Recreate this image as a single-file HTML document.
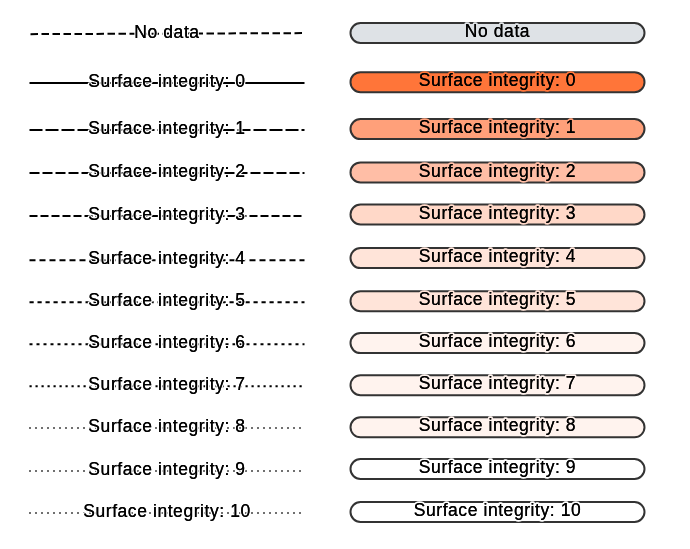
<!DOCTYPE html>
<html><head><meta charset="utf-8"><style>
html,body{margin:0;padding:0;background:#fff;}
body{width:690px;height:549px;overflow:hidden;}
svg{display:block;will-change:transform;}
text{font-family:"Liberation Sans",sans-serif;font-size:17.5px;letter-spacing:0.57px;fill:#000;text-anchor:middle;paint-order:stroke;stroke-linejoin:round;}
text.ov{stroke:#000;stroke-width:0.1px;}
</style></head><body>
<svg width="690" height="549" viewBox="0 0 690 549">
<line x1="30.5" y1="34.15" x2="304.5" y2="33.1" stroke="#000" stroke-width="2" stroke-dasharray="7.5 3.5"/>
<text x="167.0" y="37.60" stroke="#fff" stroke-width="2.5">No data</text>
<text class="ov" x="167.0" y="37.60">No data</text>
<rect x="350.5" y="23.00" width="294.0" height="20" rx="10" ry="10" fill="#dee2e6" stroke="#333" stroke-width="2"/>
<text x="497.5" y="37.15" stroke="#dee2e6" stroke-width="3.5">No data</text>
<text class="ov" x="497.5" y="37.15">No data</text>
<line x1="29.5" y1="83.1" x2="304.5" y2="83.1" stroke="#000" stroke-width="2"/>
<text x="167.0" y="87.40" stroke="#fff" stroke-width="2.5">Surface integrity: 0</text>
<text class="ov" x="167.0" y="87.40">Surface integrity: 0</text>
<rect x="350.5" y="72.15" width="294.0" height="20" rx="10" ry="10" fill="#ff7539" stroke="#333" stroke-width="2"/>
<text x="497.5" y="86.30" stroke="#ff7539" stroke-width="3.5">Surface integrity: 0</text>
<text class="ov" x="497.5" y="86.30">Surface integrity: 0</text>
<line x1="29.5" y1="130.0" x2="304.5" y2="130.0" stroke="#000" stroke-width="2" stroke-dasharray="13 3"/>
<text x="167.0" y="134.30" stroke="#fff" stroke-width="2.5">Surface integrity: 1</text>
<text class="ov" x="167.0" y="134.30">Surface integrity: 1</text>
<rect x="350.5" y="119.10" width="294.0" height="20" rx="10" ry="10" fill="#ffa07a" stroke="#333" stroke-width="2"/>
<text x="497.5" y="133.25" stroke="#ffa07a" stroke-width="3.5">Surface integrity: 1</text>
<text class="ov" x="497.5" y="133.25">Surface integrity: 1</text>
<line x1="29.5" y1="173.1" x2="304.5" y2="173.1" stroke="#000" stroke-width="2" stroke-dasharray="10 3"/>
<text x="167.0" y="177.40" stroke="#fff" stroke-width="2.5">Surface integrity: 2</text>
<text class="ov" x="167.0" y="177.40">Surface integrity: 2</text>
<rect x="350.5" y="162.40" width="294.0" height="20" rx="10" ry="10" fill="#ffbea6" stroke="#333" stroke-width="2"/>
<text x="497.5" y="176.55" stroke="#ffbea6" stroke-width="3.5">Surface integrity: 2</text>
<text class="ov" x="497.5" y="176.55">Surface integrity: 2</text>
<line x1="29.5" y1="216.1" x2="304.5" y2="216.1" stroke="#000" stroke-width="2" stroke-dasharray="8 3"/>
<text x="167.0" y="220.40" stroke="#fff" stroke-width="2.5">Surface integrity: 3</text>
<text class="ov" x="167.0" y="220.40">Surface integrity: 3</text>
<rect x="350.5" y="204.50" width="294.0" height="20" rx="10" ry="10" fill="#ffd8c8" stroke="#333" stroke-width="2"/>
<text x="497.5" y="218.65" stroke="#ffd8c8" stroke-width="3.5">Surface integrity: 3</text>
<text class="ov" x="497.5" y="218.65">Surface integrity: 3</text>
<line x1="29.5" y1="260.15" x2="304.5" y2="260.15" stroke="#000" stroke-width="2" stroke-dasharray="6 4"/>
<text x="167.0" y="264.45" stroke="#fff" stroke-width="2.5">Surface integrity: 4</text>
<text class="ov" x="167.0" y="264.45">Surface integrity: 4</text>
<rect x="350.5" y="248.10" width="294.0" height="20" rx="10" ry="10" fill="#ffe4d9" stroke="#333" stroke-width="2"/>
<text x="497.5" y="262.25" stroke="#ffe4d9" stroke-width="3.5">Surface integrity: 4</text>
<text class="ov" x="497.5" y="262.25">Surface integrity: 4</text>
<line x1="29.5" y1="302.15" x2="304.5" y2="302.15" stroke="#000" stroke-width="2" stroke-dasharray="4.2 3.8"/>
<text x="167.0" y="306.45" stroke="#fff" stroke-width="2.5">Surface integrity: 5</text>
<text class="ov" x="167.0" y="306.45">Surface integrity: 5</text>
<rect x="350.5" y="291.20" width="294.0" height="20" rx="10" ry="10" fill="#ffe4d9" stroke="#333" stroke-width="2"/>
<text x="497.5" y="305.35" stroke="#ffe4d9" stroke-width="3.5">Surface integrity: 5</text>
<text class="ov" x="497.5" y="305.35">Surface integrity: 5</text>
<line x1="29.5" y1="344.15" x2="304.5" y2="344.15" stroke="#000" stroke-width="2" stroke-dasharray="3 4"/>
<text x="167.0" y="348.45" stroke="#fff" stroke-width="2.5">Surface integrity: 6</text>
<text class="ov" x="167.0" y="348.45">Surface integrity: 6</text>
<rect x="350.5" y="333.10" width="294.0" height="20" rx="10" ry="10" fill="#fff3ee" stroke="#333" stroke-width="2"/>
<text x="497.5" y="347.25" stroke="#fff3ee" stroke-width="3.5">Surface integrity: 6</text>
<text class="ov" x="497.5" y="347.25">Surface integrity: 6</text>
<line x1="29.5" y1="386.15" x2="304.5" y2="386.15" stroke="#000" stroke-width="2" stroke-dasharray="2.2 3.8"/>
<text x="167.0" y="390.45" stroke="#fff" stroke-width="2.5">Surface integrity: 7</text>
<text class="ov" x="167.0" y="390.45">Surface integrity: 7</text>
<rect x="350.5" y="375.20" width="294.0" height="20" rx="10" ry="10" fill="#fff3ee" stroke="#333" stroke-width="2"/>
<text x="497.5" y="389.35" stroke="#fff3ee" stroke-width="3.5">Surface integrity: 7</text>
<text class="ov" x="497.5" y="389.35">Surface integrity: 7</text>
<line x1="29.0" y1="428.0" x2="304.5" y2="428.0" stroke="#707070" stroke-width="2" stroke-dasharray="2 4"/>
<text x="167.0" y="432.30" stroke="#fff" stroke-width="2.5">Surface integrity: 8</text>
<text class="ov" x="167.0" y="432.30">Surface integrity: 8</text>
<rect x="350.5" y="417.30" width="294.0" height="20" rx="10" ry="10" fill="#fff3ee" stroke="#333" stroke-width="2"/>
<text x="497.5" y="431.45" stroke="#fff3ee" stroke-width="3.5">Surface integrity: 8</text>
<text class="ov" x="497.5" y="431.45">Surface integrity: 8</text>
<line x1="29.0" y1="471.0" x2="304.5" y2="471.0" stroke="#707070" stroke-width="2" stroke-dasharray="2 4"/>
<text x="167.0" y="475.30" stroke="#fff" stroke-width="2.5">Surface integrity: 9</text>
<text class="ov" x="167.0" y="475.30">Surface integrity: 9</text>
<rect x="350.5" y="459.00" width="294.0" height="20" rx="10" ry="10" fill="#ffffff" stroke="#333" stroke-width="2"/>
<text x="497.5" y="473.15" stroke="#ffffff" stroke-width="3.5">Surface integrity: 9</text>
<text class="ov" x="497.5" y="473.15">Surface integrity: 9</text>
<line x1="29.0" y1="513.0" x2="304.5" y2="513.0" stroke="#707070" stroke-width="2" stroke-dasharray="2 4"/>
<text x="167.0" y="517.30" stroke="#fff" stroke-width="2.5">Surface integrity: 10</text>
<text class="ov" x="167.0" y="517.30">Surface integrity: 10</text>
<rect x="350.5" y="502.00" width="294.0" height="20" rx="10" ry="10" fill="#ffffff" stroke="#333" stroke-width="2"/>
<text x="497.5" y="516.15" stroke="#ffffff" stroke-width="3.5">Surface integrity: 10</text>
<text class="ov" x="497.5" y="516.15">Surface integrity: 10</text>
</svg></body></html>
